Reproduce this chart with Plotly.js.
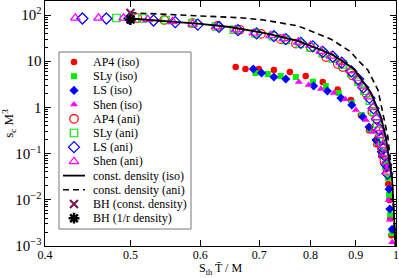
<!DOCTYPE html>
<html><head><meta charset="utf-8">
<script src="https://cdn.plot.ly/plotly-3.0.1.min.js"></script>
<style>html,body{margin:0;padding:0;background:#fff}#c{width:399px;height:278px}</style>
</head><body><div id="c"></div>
<script>
// ---- data ----
const ap4IsoX = [0.658,0.675,0.699,0.727,0.758,0.790,0.826,0.859,0.889,0.9125,0.932,0.950,0.962,0.974,0.980,0.983,0.985,0.988];
const ap4IsoY = [7.5,6.8,6.8,6.45,5.84,4.8,3.55,2.45,1.45,0.68,0.32,0.16,0.09,0.045,0.022,0.0099,0.0040,0.0017];
const slyIsoX = [0.693,0.7155,0.740,0.770,0.805,0.8325,0.861,0.891,0.915,0.934,0.951,0.963,0.974,0.979,0.982,0.985,0.989];
const slyIsoY = [5.56,5.29,4.79,4.55,3.6,2.9,2.05,1.24,0.68,0.34,0.17,0.10,0.062,0.030,0.0127,0.0047,0.0019];
const lsIsoX = [0.689,0.704,0.727,0.750,0.8066,0.836,0.866,0.891,0.917,0.932,0.949,0.962,0.975,0.982,0.984,0.990];
const lsIsoY = [6.8,5.56,4.55,4.12,2.9,2.26,1.6,1.13,0.62,0.377,0.197,0.11,0.05,0.017,0.0063,0.0023];
const shenIsoX = [0.776,0.796,0.822,0.850,0.876,0.9006,0.9245,0.9416,0.955,0.966,0.976,0.981,0.984,0.990];
const shenIsoY = [3.55,3.05,2.5,2.05,1.5,0.88,0.533,0.294,0.16,0.09,0.05,0.0099,0.0037,0.0012];

const ap4AniX = [0.509,0.546,0.588,0.628,0.665,0.703,0.740,0.770,0.800,0.833,0.859,0.870,0.893,0.906,0.925,0.940,0.949,0.957,0.964,0.970];
const ap4AniY = [86,78,67,58,48,39,30,24,20,12.3,8.7,7.5,4.9,3.9,2.05,0.8,0.38,0.22,0.13,0.07];
const slyAniX = [0.482,0.516,0.548,0.588,0.625,0.655,0.693,0.725,0.750,0.778,0.800,0.826,0.848,0.870,0.890,0.907,0.921,0.934,0.944,0.952,0.959,0.965,0.970,0.975];
const slyAniY = [86,84,78,66,57,48,40,35,29,24,20,15,11.5,8.5,5.6,3.6,2.3,1.4,0.8,0.45,0.26,0.15,0.095,0.055];
const lsAniX = [0.441,0.4695,0.4986,0.531,0.562,0.596,0.630,0.662,0.695,0.727,0.750,0.780,0.805,0.826,0.848,0.868,0.890,0.906,0.918,0.933,0.943,0.951,0.958,0.963,0.968,0.971,0.975,0.978];
const lsAniY = [84,84,84,76,70,62,55,47,40,35,30,25,21,16,12.5,9.3,6,4.1,2.7,1.6,0.95,0.56,0.33,0.22,0.13,0.09,0.058,0.037];
const shenAniX = [0.433,0.460,0.491,0.523,0.558,0.588,0.625,0.658,0.690,0.721,0.746,0.775,0.800,0.822,0.844,0.866,0.889,0.905,0.917,0.932,0.942,0.950,0.957,0.962,0.967,0.970,0.974,0.977];
const shenAniY = [86,86,86,80,72,64,56,48,41,36,31,26,22,16.5,13,9.5,6.3,4.3,2.9,1.7,1.0,0.6,0.35,0.25,0.15,0.10,0.066,0.04];

const constIsoX = [0.5,0.548,0.6,0.648,0.708,0.774,0.844,0.866,0.896,0.937,0.9615,0.974,0.990,0.999];
const constIsoY = [84,74,64,55,41,27.4,14.3,10.6,6.8,2.05,0.62,0.22,0.027,0.001];
const constAniX = [0.5,0.6,0.667,0.708,0.774,0.844,0.889,0.905,0.929,0.954,0.969,0.979,0.990,0.998];
const constAniY = [112,95,87,78,58,30,15.8,10.6,6.45,2.38,0.62,0.23,0.03,0.001];

const bhConstX = [0.5], bhConstY = [110];
const bhRX = [0.5], bhRY = [80];

const xTicks = [0.4,0.5,0.6,0.7,0.8,0.9,1];
const xTickText = ["0.4","0.5","0.6","0.7","0.8","0.9","1"];

const names = ["AP4 (iso)","SLy (iso)","LS (iso)","Shen (iso)","AP4 (ani)","SLy (ani)","LS (ani)","Shen (ani)",
  "const. density (iso)","const. density (ani)","BH (const. density)","BH (1/r density)"];

// ---- styles ----
const FONT = "'Liberation Serif', 'Times New Roman', Times, serif";
const styles = [
  {mode:'markers', marker:{symbol:'circle', size:6.5, color:'#ff0000'}},
  {mode:'markers', marker:{symbol:'square', size:6, color:'#00ee00'}},
  {mode:'markers', marker:{symbol:'diamond', size:7, color:'#0000ff'}},
  {mode:'markers', marker:{symbol:'triangle-up', size:7, color:'#ff00ff'}},
  {mode:'markers', marker:{symbol:'circle-open', size:8.5, color:'#ff0000', line:{width:1.2}}},
  {mode:'markers', marker:{symbol:'square-open', size:7.5, color:'#00ee00', line:{width:1.2}}},
  {mode:'markers', marker:{symbol:'diamond-open', size:8.5, color:'#0000ff', line:{width:1.2}}},
  {mode:'markers', marker:{symbol:'triangle-up-open', size:8.5, color:'#ff00ff', line:{width:1.2}}},
  {mode:'lines', line:{color:'#000', width:1.8}},
  {mode:'lines', line:{color:'#000', width:1.6, dash:'6px,4px'}},
  {mode:'markers', marker:{symbol:'x-thin-open', size:8, color:'#7a1a55', line:{width:2.2, color:'#7a1a55'}}},
  {mode:'markers', marker:{symbol:'asterisk-open', size:9, color:'#000', line:{width:2.4, color:'#000'}}}
];
const xs = [ap4IsoX,slyIsoX,lsIsoX,shenIsoX,ap4AniX,slyAniX,lsAniX,shenAniX,constIsoX,constAniX,bhConstX,bhRX];
const ys = [ap4IsoY,slyIsoY,lsIsoY,shenIsoY,ap4AniY,slyAniY,lsAniY,shenAniY,constIsoY,constAniY,bhConstY,bhRY];

const traces = [];
for (let i=0;i<names.length;i++){
  traces.push(Object.assign({type:'scatter', x:xs[i], y:ys[i], name:names[i], showlegend:false, cliponaxis:true}, styles[i]));
}

// ---- hand-built legend on an overlay axis (0..1 over the plot area) ----
const L = 45, R = 396, T = 1, B = 246;
const px2x = p => (p-L)/(R-L), py2y = p => (B-p)/(B-T);
const annotations = [];
for (let i=0;i<names.length;i++){
  const yy = py2y(62 + 14.2*i);
  const st = styles[i];
  if (st.mode==='lines'){
    traces.push({type:'scatter', xaxis:'x2', yaxis:'y2', x:[px2x(63),px2x(85)], y:[yy,yy], mode:'lines', line:st.line, showlegend:false, cliponaxis:false, hoverinfo:'skip'});
  } else {
    traces.push({type:'scatter', xaxis:'x2', yaxis:'y2', x:[px2x(74)], y:[yy], mode:'markers', marker:st.marker, showlegend:false, cliponaxis:false, hoverinfo:'skip'});
  }
  annotations.push({xref:'paper', yref:'paper', x:px2x(91), y:yy, xanchor:'left', yanchor:'middle', text:names[i], showarrow:false, font:{family:FONT, size:12, color:'#000'}});
}
// x-axis title as an annotation below the tick labels
annotations.push({xref:'paper', yref:'paper', x:0.5, y:py2y(269), xanchor:'center', yanchor:'middle',
  text:'S<sub>th</sub> T\u0304 / M', showarrow:false, font:{family:FONT, size:12, color:'#000'}});

const layout = {
  width:399, height:278,
  margin:{l:L, r:399-R, t:T, b:278-B},
  paper_bgcolor:'#fff', plot_bgcolor:'#fff',
  font:{family:FONT, size:12, color:'#000'},
  showlegend:false,
  xaxis:{type:'log', range:[Math.log10(0.4),0], tickvals:xTicks, ticktext:xTickText,
    ticks:'inside', ticklen:6, tickwidth:1, tickcolor:'#000', showline:true, linecolor:'#000', linewidth:1.2, mirror:'ticks',
    ticklabelstandoff:-3,
    showgrid:false, zeroline:false, tickfont:{family:FONT, size:12}},
  yaxis:{type:'log', range:[-3,2.303], dtick:1, exponentformat:'power',
    ticks:'inside', ticklen:6, tickwidth:1, tickcolor:'#000', showline:true, linecolor:'#000', linewidth:1.2, mirror:'ticks',
    minor:{ticks:'inside', ticklen:3, tickcolor:'#000', dtick:'D1', showgrid:false},
    showgrid:false, zeroline:false, tickfont:{family:FONT, size:12},
    title:{text:'s<sub>c</sub> M<sup>3</sup>', standoff:3, font:{family:FONT, size:13}}},
  xaxis2:{overlaying:'x', range:[0,1], visible:false, fixedrange:true},
  yaxis2:{overlaying:'y', range:[0,1], visible:false, fixedrange:true},
  shapes:[{type:'rect', xref:'paper', yref:'paper', x0:px2x(59), x1:px2x(191), y0:py2y(229), y1:py2y(52),
    line:{color:'#777', width:1}, fillcolor:'#fff', layer:'below'}],
  annotations:annotations
};
Plotly.newPlot('c', traces, layout, {staticPlot:true, displayModeBar:false});
</script></body></html>
